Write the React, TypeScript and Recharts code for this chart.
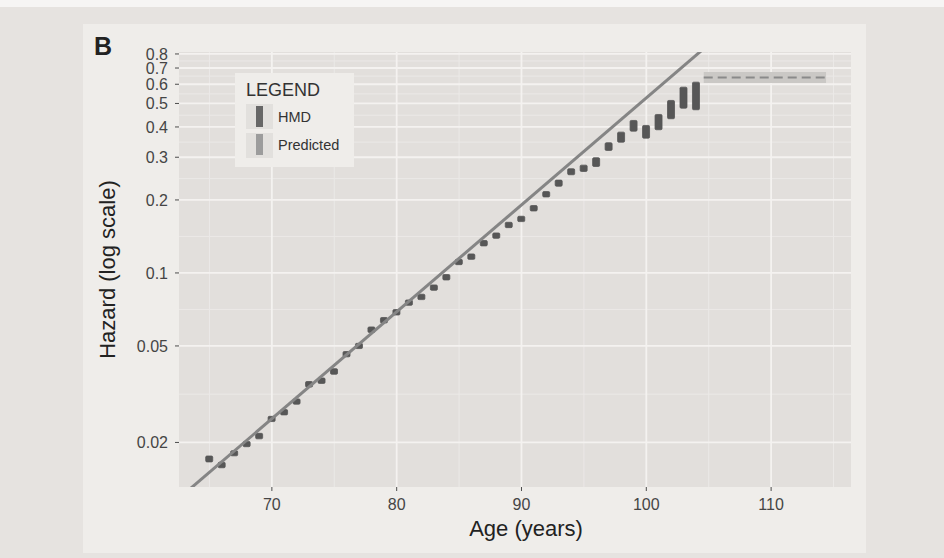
import React from 'react';
import {
  ComposedChart,
  Bar,
  Line,
  XAxis,
  YAxis,
  CartesianGrid,
  ReferenceArea,
  Legend,
  Label,
} from 'recharts';

const ages = [
  65, 66, 67, 68, 69, 70, 71, 72, 73, 74, 75, 76, 77, 78, 79, 80, 81, 82, 83, 84,
  85, 86, 87, 88, 89, 90, 91, 92, 93, 94, 95, 96, 97, 98, 99, 100, 101, 102, 103, 104,
];
const hmdLow = [
  0.0167, 0.0158, 0.0177, 0.0193, 0.0208, 0.0245, 0.0261, 0.0289, 0.034, 0.0352,
  0.0384, 0.0453, 0.049, 0.0571, 0.0625, 0.0674, 0.0739, 0.078, 0.0852, 0.094,
  0.1087, 0.1143, 0.1299, 0.1396, 0.1545, 0.1636, 0.181, 0.2068, 0.229, 0.2553,
  0.2634, 0.2762, 0.3216, 0.3478, 0.3862, 0.3614, 0.3914, 0.4345, 0.4804, 0.4732,
];
const hmdHigh = [
  0.0175, 0.0165, 0.0184, 0.0201, 0.0217, 0.0255, 0.0272, 0.0301, 0.0355, 0.0367,
  0.0401, 0.0472, 0.051, 0.0596, 0.0652, 0.0703, 0.077, 0.0813, 0.0888, 0.098,
  0.1133, 0.1192, 0.1354, 0.1455, 0.161, 0.1705, 0.1887, 0.2155, 0.2403, 0.2677,
  0.277, 0.2972, 0.3426, 0.379, 0.4235, 0.4039, 0.4482, 0.5121, 0.5809, 0.6091,
];

// Predicted (Gompertz) line, straight on the log scale
const predAges = [63, 105];
const predHazard = [0.0123, 0.876];

// Predicted plateau beyond 105
const plateauAges = [104.6, 114.4];
const plateauHazard = 0.64;
const plateauLow = 0.607;
const plateauHigh = 0.674;

const xTicks = [70, 80, 90, 100, 110];
const xMinor = [65, 75, 85, 95, 105, 115];
const yTicks = [0.02, 0.05, 0.1, 0.2, 0.3, 0.4, 0.5, 0.6, 0.7, 0.8];
// minor grid sits half way (in log space) between major breaks
const yMinor = yTicks.slice(1).map((t, i) => Math.sqrt(t * yTicks[i]));

const legendItems = [
  { name: 'HMD', color: '#676767' },
  { name: 'Predicted', color: '#9c9c9c' },
];

const hmdData = ages.map((age, i) => ({ age, range: [hmdLow[i], hmdHigh[i]] }));
const predData = predAges.map((age, i) => ({ age, hazard: predHazard[i] }));
const plateauData = plateauAges.map((age) => ({ age, hazard: plateauHazard }));

const FONT = '"Liberation Sans", Arial, Helvetica, sans-serif';
const BAR_W = 7;

// crossbar-like rectangle, fixed width, centred on the age
const HmdBar = (props: any) => {
  const { x, y, width, height } = props;
  if (x == null || y == null) return null;
  const cx = x + width / 2;
  return (
    <rect
      x={cx - BAR_W / 2}
      y={y - 0.5}
      width={BAR_W}
      height={Math.max(height, 0) + 1}
      rx={1.2}
      fill="#575757"
      stroke="#575757"
      strokeWidth={0.8}
    />
  );
};

const renderLegend = () => (
  <div
    style={{
      position: 'relative',
      width: 119,
      height: 94,
      background: '#efedea',
      fontFamily: FONT,
      color: '#333',
    }}
  >
    <div style={{ position: 'absolute', left: 11, top: 8, fontSize: 18, lineHeight: '18px' }}>LEGEND</div>
    {legendItems.map((item, i) => (
      <React.Fragment key={item.name}>
        <div
          style={{
            position: 'absolute',
            left: 11,
            top: 31 + i * 29,
            width: 27,
            height: 25,
            background: '#e2e0dd',
          }}
        />
        <div
          style={{
            position: 'absolute',
            left: 21,
            top: 33 + i * 28,
            width: 7,
            height: 21,
            background: item.color,
          }}
        />
        <div
          style={{
            position: 'absolute',
            left: 43,
            top: 37 + i * 28,
            fontSize: 14.5,
            lineHeight: '14.5px',
          }}
        >
          {item.name}
        </div>
      </React.Fragment>
    ))}
  </div>
);

const App: React.FC = () => {
  return (
    <div
      style={{
        position: 'absolute',
        left: 0,
        top: 0,
        width: 944,
        height: 558,
        background: '#e6e3e0',
        fontFamily: FONT,
        overflow: 'hidden',
      }}
    >
      <div style={{ position: 'absolute', left: 0, top: 0, width: 944, height: 7, background: '#f6f5f4' }} />
      {/* figure card */}
      <div style={{ position: 'absolute', left: 83, top: 24, width: 783, height: 529, background: '#efedea' }} />
      <div
        style={{
          position: 'absolute',
          left: 94,
          top: 32,
          fontSize: 25,
          fontWeight: 'bold',
          color: '#222',
        }}
      >
        B
      </div>

      <div style={{ position: 'absolute', left: 0, top: 0 }}>
        <ComposedChart
          width={944}
          height={558}
          data={hmdData}
          margin={{ top: 52, right: 93, bottom: 31, left: 99 }}
        >
          {/* minor grid */}
          <CartesianGrid
            fill="#e2dfdc"
            stroke="#ebe9e7"
            strokeWidth={1}
            verticalValues={xMinor}
            horizontalValues={yMinor}
          />
          {/* major grid */}
          <CartesianGrid
            stroke="#f4f2f0"
            strokeWidth={1.8}
            verticalValues={xTicks}
            horizontalValues={yTicks}
          />

          <XAxis
            dataKey="age"
            type="number"
            domain={[62.56, 116.4]}
            allowDataOverflow
            ticks={xTicks}
            interval={0}
            axisLine={false}
            tickSize={4}
            tickMargin={8}
            tickLine={{ stroke: '#4d4d4d' }}
            tick={{ fontSize: 16, fill: '#454545', fontFamily: FONT }}
            height={40}
          >
            <Label
              content={() => (
                <text
                  x={526}
                  y={528}
                  textAnchor="middle"
                  dominantBaseline="central"
                  fontSize={22}
                  fill="#222"
                  fontFamily={FONT}
                >
                  Age (years)
                </text>
              )}
            />
          </XAxis>

          <YAxis
            type="number"
            scale="log"
            domain={[0.0131, 0.815]}
            allowDataOverflow
            ticks={yTicks}
            interval={0}
            tickFormatter={(v: number) => String(v)}
            axisLine={false}
            tickSize={4}
            tickMargin={7}
            tickLine={{ stroke: '#4d4d4d' }}
            tick={{ fontSize: 16, fill: '#454545', fontFamily: FONT }}
            width={80}
          >
            <Label
              content={() => (
                <text
                  x={107}
                  y={269.5}
                  transform="rotate(-90 107 269.5)"
                  textAnchor="middle"
                  dominantBaseline="central"
                  fontSize={22}
                  fill="#222"
                  fontFamily={FONT}
                >
                  Hazard (log scale)
                </text>
              )}
            />
          </YAxis>

          {/* predicted plateau band */}
          <ReferenceArea
            x1={plateauAges[0]}
            x2={plateauAges[1]}
            y1={plateauLow}
            y2={plateauHigh}
            fill="#cac8c5"
            fillOpacity={1}
            stroke="none"
          />
          <Line
            data={plateauData}
            dataKey="hazard"
            stroke="#8a8a8a"
            strokeWidth={2}
            strokeDasharray="9 5"
            dot={false}
            legendType="none"
            isAnimationActive={false}
          />

          <Line
            data={predData}
            dataKey="hazard"
            stroke="#858585"
            strokeWidth={3}
            dot={false}
            legendType="none"
            isAnimationActive={false}
          />

          <Bar
            dataKey="range"
            fill="#575757"
            barSize={BAR_W}
            shape={HmdBar}
            legendType="none"
            isAnimationActive={false}
          />

          <Legend
            layout="vertical"
            align="center"
            verticalAlign="middle"
            wrapperStyle={{ left: 235, top: 73, width: 119, height: 94 }}
            content={renderLegend}
          />
        </ComposedChart>
      </div>
    </div>
  );
};

export default App;
